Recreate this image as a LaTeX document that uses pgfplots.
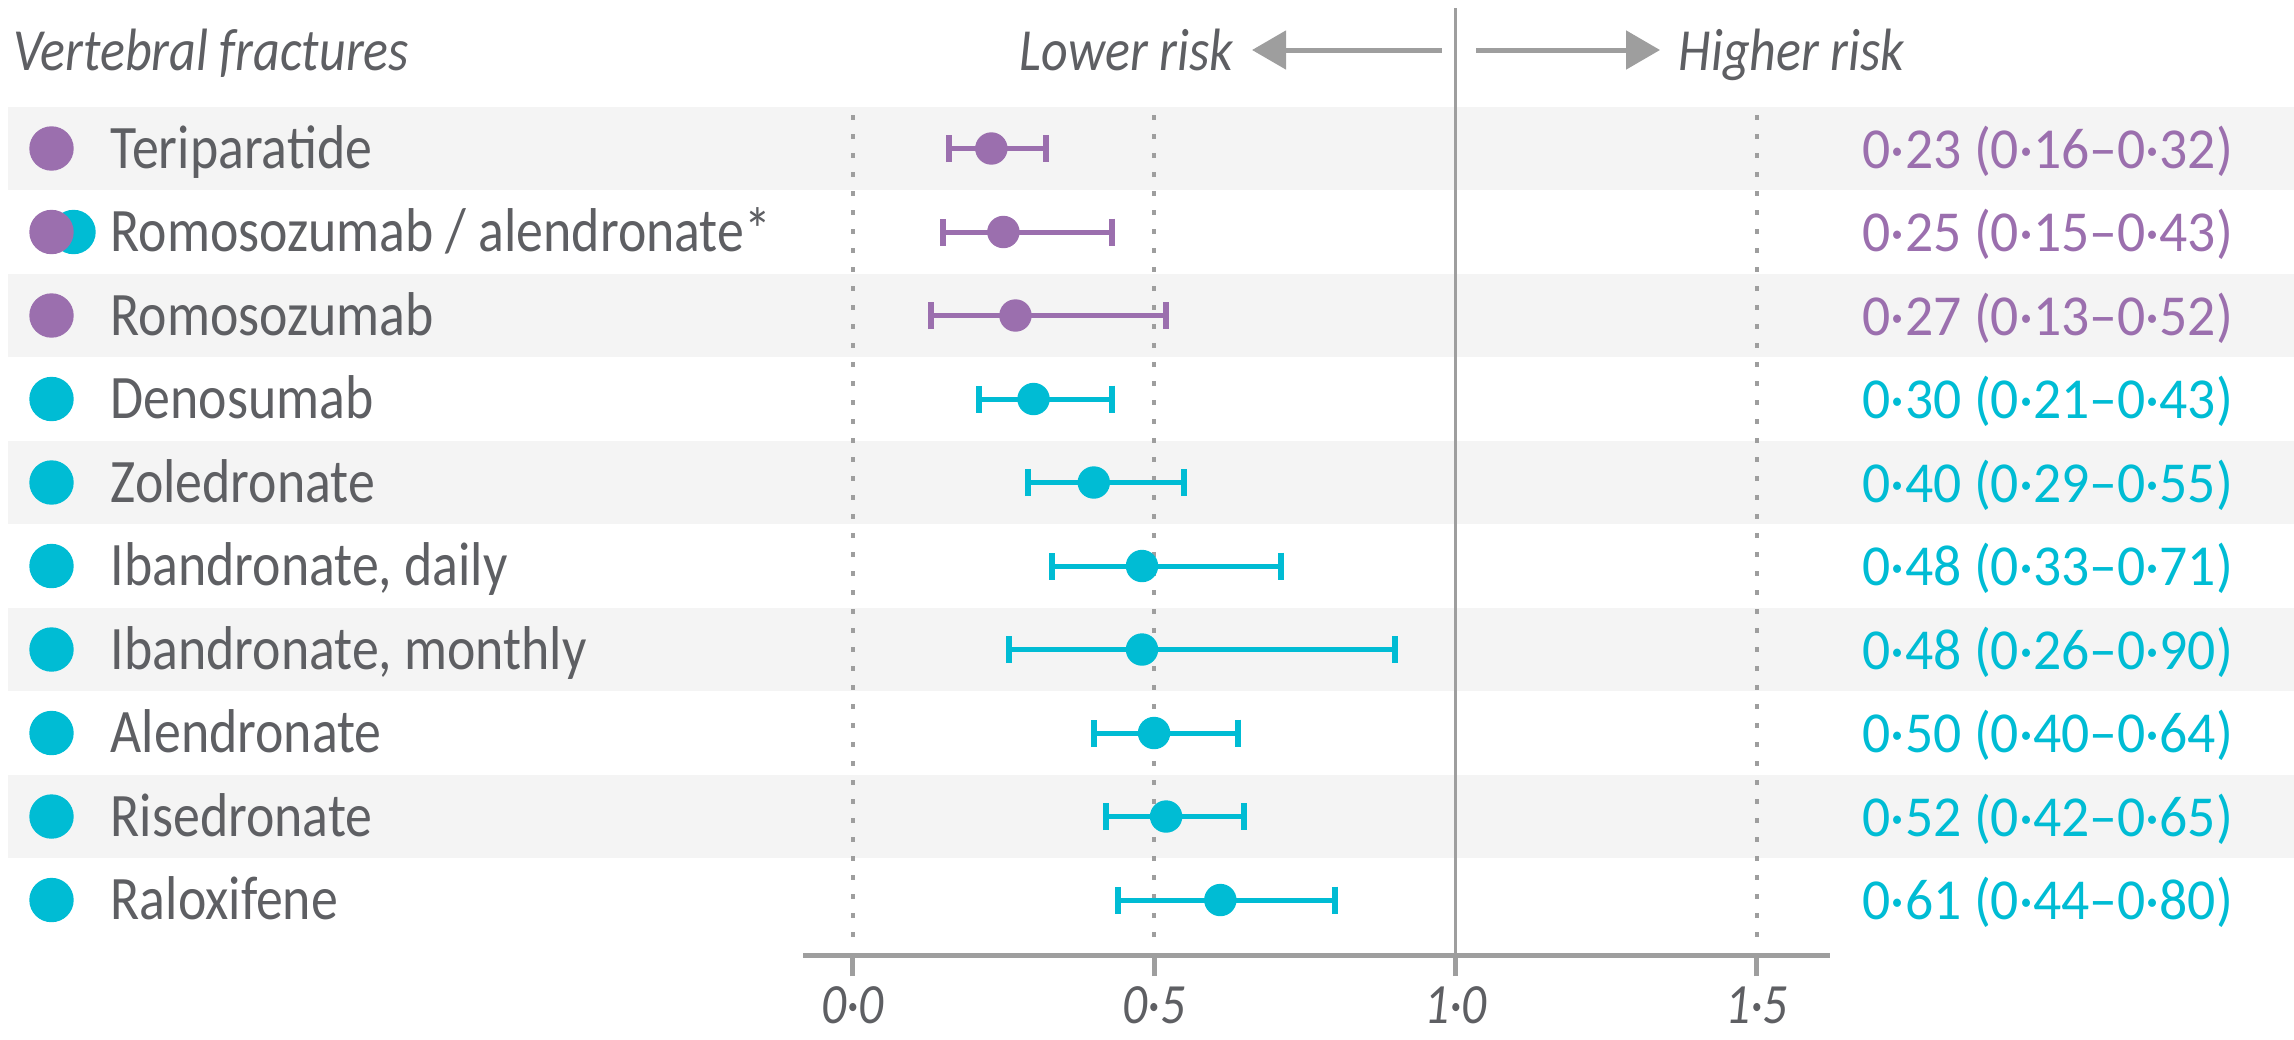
\documentclass[border=0pt]{standalone}
\usepackage{pgfplots}
\pgfplotsset{compat=1.18}
\usepackage{pgfplotstable}
\usepackage{fontspec}
\setmainfont{Carlito}
\newfontfamily\labfont[FakeStretch=0.87]{Carlito}
\newfontfamily\numfont[FakeStretch=0.96]{Carlito}
\usetikzlibrary{arrows.meta}
\definecolor{purp}{HTML}{9B6FAE}
\definecolor{cyanb}{HTML}{00BCD4}
\definecolor{txt}{HTML}{5E5F63}
\definecolor{band}{HTML}{F4F4F4}
\definecolor{axg}{HTML}{9E9E9E}

\pgfplotstableread{
row est lo hi
1 0.23 0.16 0.32
2 0.25 0.15 0.43
3 0.27 0.13 0.52
}\purptab
\pgfplotstableread{
row est lo hi
4 0.30 0.21 0.43
5 0.40 0.29 0.55
6 0.48 0.33 0.71
7 0.48 0.26 0.90
8 0.50 0.40 0.64
9 0.52 0.42 0.65
10 0.61 0.44 0.80
}\cyantab

\newcommand{\labsize}{\fontsize{17.6pt}{20pt}\selectfont}
\newcommand{\hdsize}{\fontsize{17pt}{20pt}\selectfont}
\newcommand{\numsize}{\fontsize{16.5pt}{19pt}\selectfont}
\newcommand{\ticksize}{\fontsize{16.2pt}{19pt}\selectfont}

\begin{document}
\begin{tikzpicture}
\begin{axis}[
  scale only axis,
  width=102.7mm, height=94.7mm,
  xmin=-0.0825, xmax=1.6218,
  ymin=-0.6826, ymax=10.6587,
  y dir=reverse,
  axis x line=bottom, axis y line=none,
  x axis line style={-, axg, line width=0.5mm},
  xtick={0,0.5,1,1.5}, xticklabels={},
  ytick=\empty,
  tick align=outside,
  major tick length=2.1mm,
  tick style={axg, line width=0.5mm},
  clip=false,
]
% alternating row bands
\fill[band] (axis cs:-1.4018,0.505) rectangle (axis cs:2.3917,1.495);
\fill[band] (axis cs:-1.4018,2.505) rectangle (axis cs:2.3917,3.495);
\fill[band] (axis cs:-1.4018,4.505) rectangle (axis cs:2.3917,5.495);
\fill[band] (axis cs:-1.4018,6.505) rectangle (axis cs:2.3917,7.495);
\fill[band] (axis cs:-1.4018,8.505) rectangle (axis cs:2.3917,9.495);

% reference lines
\draw[axg, line width=0.4mm, dash pattern=on 0.45mm off 1.45mm] (axis cs:0,0.5988) -- (axis cs:0,10.479);
\draw[axg, line width=0.4mm, dash pattern=on 0.45mm off 1.45mm] (axis cs:0.5,0.5988) -- (axis cs:0.5,10.479);
\draw[axg, line width=0.4mm, dash pattern=on 0.45mm off 1.45mm] (axis cs:1.5,0.5988) -- (axis cs:1.5,10.479);
\draw[axg, line width=0.35mm] (axis cs:1,-0.6826) -- (axis cs:1,10.6587);

% data
\addplot[purp, only marks, mark=*, mark size=1.55mm, mark options={draw=none, fill=purp},
  error bars/.cd, x dir=both, x explicit, error mark=|,
  error bar style={line width=0.5mm, purp},
  error mark options={line width=0.6mm, mark size=1.35mm, purp}]
  table[x=est, y=row, x error plus expr=\thisrow{hi}-\thisrow{est}, x error minus expr=\thisrow{est}-\thisrow{lo}] {\purptab};
\addplot[cyanb, only marks, mark=*, mark size=1.55mm, mark options={draw=none, fill=cyanb},
  error bars/.cd, x dir=both, x explicit, error mark=|,
  error bar style={line width=0.5mm, cyanb},
  error mark options={line width=0.6mm, mark size=1.35mm, cyanb}]
  table[x=est, y=row, x error plus expr=\thisrow{hi}-\thisrow{est}, x error minus expr=\thisrow{est}-\thisrow{lo}] {\cyantab};

% class icons
\addplot[cyanb, only marks, mark=*, mark size=2.15mm, mark options={draw=none, fill=cyanb}]
  coordinates {(-1.2931,2) (-1.3296,4) (-1.3296,5) (-1.3296,6) (-1.3296,7) (-1.3296,8) (-1.3296,9) (-1.3296,10)};
\addplot[purp, only marks, mark=*, mark size=2.15mm, mark options={draw=none, fill=purp}]
  coordinates {(-1.3296,1) (-1.3296,2) (-1.3296,3)};

% row labels
\begin{scope}[every node/.style={anchor=base west, font=\labfont\labsize, text=txt, inner sep=0pt}]
\node at (axis cs:-1.2325,1.235) {Teriparatide};
\node at (axis cs:-1.2325,2.235) {Romosozumab / alendronate*};
\node at (axis cs:-1.2325,3.235) {Romosozumab};
\node at (axis cs:-1.2325,4.235) {Denosumab};
\node at (axis cs:-1.2325,5.235) {Zoledronate};
\node at (axis cs:-1.2325,6.235) {Ibandronate, daily};
\node at (axis cs:-1.2325,7.235) {Ibandronate, monthly};
\node at (axis cs:-1.2325,8.235) {Alendronate};
\node at (axis cs:-1.2325,9.235) {Risedronate};
\node at (axis cs:-1.2325,10.235) {Raloxifene};
\end{scope}

% estimates
\begin{scope}[every node/.style={anchor=base west, font=\numfont\numsize, inner sep=0pt}]
\node[text=purp] at (axis cs:1.6749,1.235) {0·23 (0·16–0·32)};
\node[text=purp] at (axis cs:1.6749,2.235) {0·25 (0·15–0·43)};
\node[text=purp] at (axis cs:1.6749,3.235) {0·27 (0·13–0·52)};
\node[text=cyanb] at (axis cs:1.6749,4.235) {0·30 (0·21–0·43)};
\node[text=cyanb] at (axis cs:1.6749,5.235) {0·40 (0·29–0·55)};
\node[text=cyanb] at (axis cs:1.6749,6.235) {0·48 (0·33–0·71)};
\node[text=cyanb] at (axis cs:1.6749,7.235) {0·48 (0·26–0·90)};
\node[text=cyanb] at (axis cs:1.6749,8.235) {0·50 (0·40–0·64)};
\node[text=cyanb] at (axis cs:1.6749,9.235) {0·52 (0·42–0·65)};
\node[text=cyanb] at (axis cs:1.6749,10.235) {0·61 (0·44–0·80)};
\end{scope}

% header
\node[anchor=base west, font=\labfont\itshape\hdsize, text=txt, inner sep=0pt] at (axis cs:-1.3935,0.0599) {Vertebral fractures};
\node[anchor=base east, font=\labfont\itshape\hdsize, text=txt, inner sep=0pt] at (axis cs:0.6328,0.0599) {Lower risk};
\node[anchor=base west, font=\labfont\itshape\hdsize, text=txt, inner sep=0pt] at (axis cs:1.3696,0.0599) {Higher risk};
\draw[axg, line width=0.5mm, -{Triangle[length=3.4mm, width=3.8mm]}] (axis cs:0.9777,-0.1796) -- (axis cs:0.6626,-0.1796);
\draw[axg, line width=0.5mm, -{Triangle[length=3.4mm, width=3.8mm]}] (axis cs:1.0344,-0.1796) -- (axis cs:1.3397,-0.1796);

% tick labels
\begin{scope}[every node/.style={anchor=base, font=\labfont\itshape\ticksize, text=txt, inner sep=0pt}]
\node at (axis cs:0,11.48) {0·0};
\node at (axis cs:0.5,11.48) {0·5};
\node at (axis cs:1,11.48) {1·0};
\node at (axis cs:1.5,11.48) {1·5};
\end{scope}

\coordinate (BL) at (axis cs:-1.4151,11.6647);
\coordinate (TR) at (axis cs:2.3917,-0.7784);
\end{axis}
\pgfresetboundingbox
\path[use as bounding box] (BL) rectangle (TR);
\end{tikzpicture}
\end{document}
